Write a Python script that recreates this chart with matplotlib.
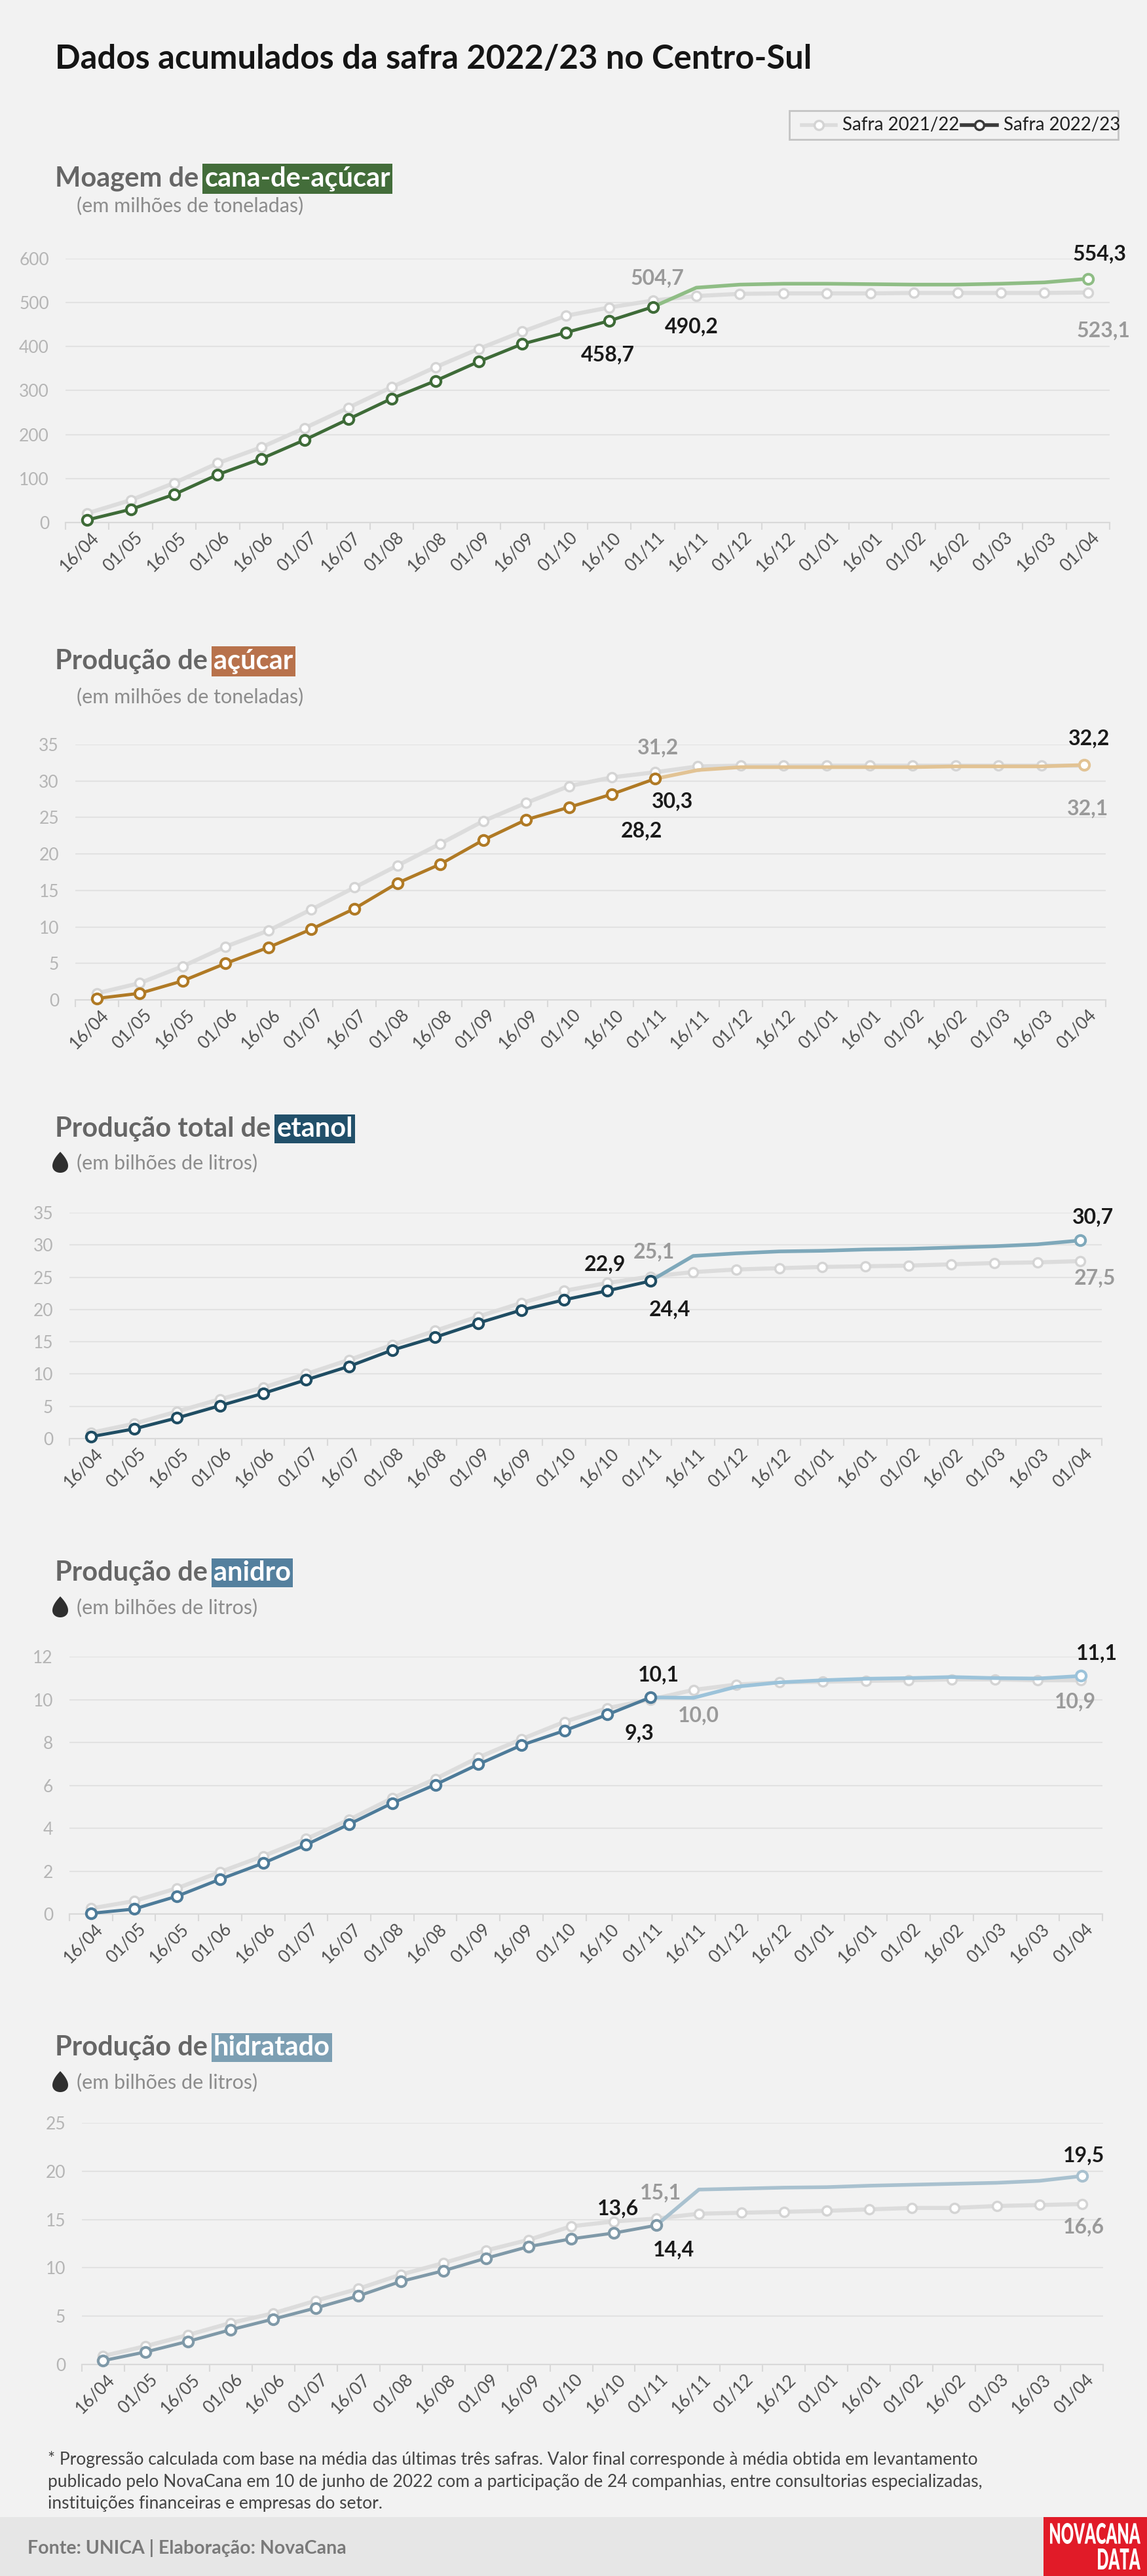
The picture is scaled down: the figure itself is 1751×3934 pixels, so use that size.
import numpy as np
import matplotlib
matplotlib.use('Agg')
import matplotlib.pyplot as plt
from matplotlib.lines import Line2D
from matplotlib.patches import Rectangle, Polygon, PathPatch
from matplotlib.transforms import ScaledTranslation, Affine2D
from matplotlib.textpath import TextPath
from matplotlib.font_manager import FontProperties

W, H = 1751, 3934
plt.rcParams['font.family'] = ['Lato', 'DejaVu Sans']

# --- dados ---
datas = ['16/04', '01/05', '16/05', '01/06', '16/06', '01/07', '16/07', '01/08',
         '16/08', '01/09', '16/09', '01/10', '16/10', '01/11', '16/11', '01/12',
         '16/12', '01/01', '16/01', '01/02', '16/02', '01/03', '16/03', '01/04']

moagem_2122 = [21, 51, 90, 135, 171, 215, 261, 308, 353, 395, 434, 470, 489, 504.7,
               515, 520, 521, 521, 521, 522, 522, 522, 522, 523.1]
moagem_2223 = [6, 30, 64, 109, 145, 188, 235, 282, 322, 366, 406, 432, 458.7, 490.2]
moagem_proj = [534, 541, 543, 543, 542, 541, 541, 543, 546, 554.3]

acucar_2122 = [0.9, 2.3, 4.6, 7.3, 9.5, 12.4, 15.4, 18.4, 21.4, 24.5, 27.0, 29.3, 30.5, 31.2,
               32.0, 32.1, 32.1, 32.1, 32.1, 32.1, 32.1, 32.1, 32.1, 32.1]
acucar_2223 = [0.2, 0.9, 2.6, 5.0, 7.2, 9.7, 12.5, 16.0, 18.6, 21.9, 24.7, 26.4, 28.2, 30.3]
acucar_proj = [31.5, 31.9, 31.9, 31.9, 31.9, 31.9, 32.0, 32.0, 32.0, 32.2]

etanol_2122 = [0.9, 2.3, 4.2, 6.1, 7.9, 10.0, 12.2, 14.5, 16.7, 18.9, 21.0, 22.9, 24.1, 25.1,
               25.8, 26.2, 26.4, 26.6, 26.7, 26.8, 27.0, 27.2, 27.3, 27.5]
etanol_2223 = [0.3, 1.5, 3.2, 5.1, 7.0, 9.1, 11.2, 13.7, 15.7, 17.9, 19.9, 21.5, 22.9, 24.4]
etanol_proj = [28.3, 28.7, 29.0, 29.1, 29.3, 29.4, 29.6, 29.8, 30.1, 30.7]

anidro_2122 = [0.26, 0.6, 1.2, 1.96, 2.7, 3.5, 4.4, 5.4, 6.3, 7.3, 8.15, 8.96, 9.6, 10.0,
               10.45, 10.7, 10.8, 10.83, 10.87, 10.9, 10.94, 10.94, 10.9, 10.9]
anidro_2223 = [0.03, 0.23, 0.83, 1.62, 2.37, 3.23, 4.19, 5.17, 6.03, 6.98, 7.87, 8.55, 9.3, 10.1]
anidro_proj = [10.08, 10.6, 10.8, 10.9, 10.97, 11.0, 11.05, 11.0, 10.98, 11.1]

hidratado_2122 = [0.88, 1.9, 3.06, 4.3, 5.3, 6.6, 7.84, 9.3, 10.5, 11.8, 12.9, 14.3, 14.8, 15.1,
                  15.6, 15.7, 15.8, 15.9, 16.05, 16.2, 16.2, 16.4, 16.5, 16.6]
hidratado_2223 = [0.4, 1.3, 2.4, 3.6, 4.7, 5.85, 7.1, 8.6, 9.7, 11.0, 12.2, 13.0, 13.6, 14.4]
hidratado_proj = [18.1, 18.2, 18.3, 18.35, 18.5, 18.6, 18.7, 18.8, 19.0, 19.5]

CINZA = '#dcdcdc'
BG = '#f2f2f2'


def fx(x):
    return x / W


def fy(y):
    return 1 - y / H


def rect(left, top, right, bottom):
    return [left / W, 1 - bottom / H, (right - left) / W, (bottom - top) / H]


def fmt(v):
    return f'{v:.1f}'.replace('.', ',')


def gota(fig, cx, top, bottom, cor='#2f2f2f'):
    t = np.linspace(0, 2 * np.pi, 80)
    w = 24
    hh = bottom - top
    xs = cx + np.sin(t) * np.sin(t / 2) * (w / 2) / 0.77
    ys = top + (1 - np.cos(t)) / 2 * hh
    fig.add_artist(Polygon(np.column_stack([fx(xs), fy(ys)]), closed=True,
                           facecolor=cor, edgecolor='none', transform=fig.transFigure))


def texto_esticado(fig, s, x1, top, bottom, sx_por_px):
    # texto condensado, alinhado à direita em x1, ocupando top..bottom (pixels)
    tp = TextPath((0, 0), s, size=40, prop=FontProperties(family='Lato', weight='heavy'))
    ex = tp.get_extents()
    sy = (bottom - top) / ex.height
    sx = sx_por_px
    xs = x1 - ex.width * sx
    tr = (Affine2D().translate(-ex.x0, -ex.y0).scale(sx, sy).translate(xs, H - bottom)
          + Affine2D().scale(1 / W, 1 / H) + fig.transFigure)
    fig.add_artist(PathPatch(tp, facecolor='white', edgecolor='none', transform=tr))


fig = plt.figure(figsize=(W / 100, H / 100), dpi=100, facecolor=BG)
renderer = fig.canvas.get_renderer()

# título
fig.text(fx(84), fy(90), 'Dados acumulados da safra 2022/23 no Centro-Sul',
         fontsize=36.5, weight='bold', color='#151515', va='center')

# legenda
fig.add_artist(Rectangle((fx(1205), fy(213)), (1707 - 1205) / W, 44 / H,
                         facecolor=BG, edgecolor='#c4c4c4', lw=2, transform=fig.transFigure))
fig.add_artist(Line2D([fx(1224), fx(1276)], [fy(191), fy(191)], color=CINZA, lw=4,
                      transform=fig.transFigure))
fig.add_artist(Line2D([fx(1250)], [fy(191)], marker='o', ms=10, mfc='white', mec='#d4d4d4',
                      mew=2.5, transform=fig.transFigure))
fig.text(fx(1286), fy(191), 'Safra 2021/22', fontsize=20, color='#222', va='center')
fig.add_artist(Line2D([fx(1468), fx(1522)], [fy(191), fy(191)], color='#3a3a3a', lw=4,
                      transform=fig.transFigure))
fig.add_artist(Line2D([fx(1495)], [fy(191)], marker='o', ms=10, mfc='white', mec='#3a3a3a',
                      mew=2.5, transform=fig.transFigure))
fig.text(fx(1532), fy(191), 'Safra 2022/23', fontsize=20, color='#222', va='center')

paineis = [
    dict(pre='Moagem de', dest='cana-de-açúcar', box='#436d3a', sub='(em milhões de toneladas)',
         gota=False, head_y=273, sub_y=314, ax=(100, 395, 1694, 798), top=600, step=100,
         ant=moagem_2122, atual=moagem_2223, proj=moagem_proj,
         cor='#3e6b38', cor_proj='#8fbd85',
         labels=[('ant', 13, 7, 34), ('atual', 13, 59, -30), ('atual', 12, -2, -52),
                 ('proj', 23, 18, 38), ('ant', 23, 24, -58)]),
    dict(pre='Produção de', dest='açúcar', box='#b8724c', sub='(em milhões de toneladas)',
         gota=False, head_y=1010, sub_y=1064, ax=(115, 1137, 1688, 1527), top=35, step=5,
         ant=acucar_2122, atual=acucar_2223, proj=acucar_proj,
         cor='#b07a25', cor_proj='#e2c394',
         labels=[('ant', 13, 5, 38), ('atual', 13, 27, -34), ('atual', 12, 45, -56),
                 ('proj', 23, 7, 40), ('ant', 23, 5, -65)]),
    dict(pre='Produção total de', dest='etanol', box='#22506a', sub='(em bilhões de litros)',
         gota=True, head_y=1724, sub_y=1776, ax=(106, 1852, 1682, 2197), top=35, step=5,
         ant=etanol_2122, atual=etanol_2223, proj=etanol_proj,
         cor='#1f4d63', cor_proj='#7ea8ba',
         labels=[('atual', 12, -3, 40), ('ant', 13, 6, 38), ('atual', 13, 30, -43),
                 ('proj', 23, 19, 36), ('ant', 23, 22, -26)]),
    dict(pre='Produção de', dest='anidro', box='#54809e', sub='(em bilhões de litros)',
         gota=True, head_y=2402, sub_y=2455, ax=(106, 2530, 1683, 2923), top=12, step=2,
         ant=anidro_2122, atual=anidro_2223, proj=anidro_proj,
         cor='#4d7b99', cor_proj='#9cc3da',
         labels=[('atual', 13, 12, 34), ('atual', 12, 49, -28), ('ant', 13, 73, -24),
                 ('proj', 23, 24, 35), ('ant', 23, -9, -33)]),
    dict(pre='Produção de', dest='hidratado', box='#7d9fb3', sub='(em bilhões de litros)',
         gota=True, head_y=3127, sub_y=3180, ax=(125, 3242, 1684, 3611), top=25, step=5,
         ant=hidratado_2122, atual=hidratado_2223, proj=hidratado_proj,
         cor='#7f99a8', cor_proj='#a9c1cf',
         labels=[('atual', 12, 6, 37), ('ant', 13, 7, 39), ('atual', 13, 27, -37),
                 ('proj', 23, 3, 31), ('ant', 23, 3, -35)]),
]

x = np.arange(len(datas))

for p in paineis:
    # cabeçalho
    t1 = fig.text(fx(84), fy(p['head_y']), p['pre'], fontsize=30, weight='bold',
                  color='#666666', va='center')
    ext = t1.get_window_extent(renderer)
    fig.text(ext.x1 / W + 9 / W, fy(p['head_y']), p['dest'], fontsize=30, weight='bold',
             color='white', va='center',
             bbox=dict(boxstyle='square,pad=0.08', facecolor=p['box'], edgecolor='none'))
    if p['gota']:
        gota(fig, 92, p['sub_y'] - 17, p['sub_y'] + 15)
    fig.text(fx(117), fy(p['sub_y']), p['sub'], fontsize=22, color='#8c8c8c', va='center')

    l, tp, r, b = p['ax']
    ax = fig.add_axes(rect(l, tp, r, b))
    ax.set_facecolor('none')

    proj_full = [p['atual'][-1]] + p['proj']
    xp = x[len(p['atual']) - 1:]

    ax.plot(x, p['ant'], color=CINZA, lw=4.5, marker='o', ms=10, mfc='white',
            mec='#d4d4d4', mew=2.5, zorder=2, clip_on=False)
    ax.plot(xp, proj_full, color=p['cor_proj'], lw=4, zorder=3, clip_on=False,
            solid_capstyle='round')
    ax.plot(xp[-1], proj_full[-1], 'o', ms=11, mfc='white', mec=p['cor_proj'], mew=3,
            zorder=5, clip_on=False)
    ax.plot(x[:len(p['atual'])], p['atual'], color=p['cor'], lw=3.5, marker='o', ms=11,
            mfc='white', mec=p['cor'], mew=3, zorder=4, clip_on=False)

    series = {'ant': p['ant'], 'atual': p['atual'],
              'proj': [None] * (len(p['atual']) - 1) + proj_full}
    for nome, i, dx, dy in p['labels']:
        v = series[nome][i]
        cor = '#9a9a9a' if nome == 'ant' else '#1a1a1a'
        ax.annotate(fmt(v), (i, v), xytext=(dx, dy), textcoords='offset pixels',
                    ha='center', va='center', fontsize=23, weight='bold', color=cor,
                    annotation_clip=False, zorder=6)

    ax.set_xlim(-0.5, len(datas) - 0.5)
    ax.set_ylim(0, p['top'])
    ax.set_yticks(np.arange(0, p['top'] + 1, p['step']))
    ax.yaxis.grid(True, color='#e2e2e2', lw=1.5)
    ax.set_axisbelow(True)
    for s in ['left', 'right', 'top']:
        ax.spines[s].set_visible(False)
    ax.spines['bottom'].set_color('#d9d9d9')
    ax.spines['bottom'].set_linewidth(1.5)
    ax.tick_params(axis='y', length=0, labelsize=19, labelcolor='#b5b5b5', pad=18)

    ax.set_xticks(x)
    ax.set_xticklabels(datas)
    ax.set_xticks(np.arange(-0.5, len(datas)), minor=True)
    ax.tick_params(axis='x', which='major', length=0, labelsize=19, labelcolor='#505050',
                   pad=14, labelrotation=45)
    ax.tick_params(axis='x', which='minor', length=8, width=1.5, color='#d9d9d9')
    off = ScaledTranslation(10 / 72, 0, fig.dpi_scale_trans)
    for lbl in ax.get_xticklabels():
        lbl.set_ha('right')
        lbl.set_va('center')
        lbl.set_rotation_mode('anchor')
        lbl.set_transform(lbl.get_transform() + off)

# nota
nota = ['* Progressão calculada com base na média das últimas três safras. Valor final corresponde à média obtida em levantamento',
        'publicado pelo NovaCana em 10 de junho de 2022 com a participação de 24 companhias, entre consultorias especializadas,',
        'instituições financeiras e empresas do setor.']
for yy, linha in zip([3756, 3790, 3823], nota):
    fig.text(fx(73), fy(yy), linha, fontsize=19, color='#444444', va='center')

# rodapé
fig.add_artist(Rectangle((0, 0), 1, (H - 3844) / H, facecolor='#e6e6e6', edgecolor='none',
                         transform=fig.transFigure))
fig.text(fx(42), fy(3891), 'Fonte: UNICA | Elaboração: NovaCana', fontsize=20.5,
         weight='bold', color='#7a7a7a', va='center')
fig.add_artist(Rectangle((fx(1593), 0), (W - 1593) / W, (H - 3844) / H, facecolor='#e11b28',
                         edgecolor='none', transform=fig.transFigure))
tp_ref = TextPath((0, 0), 'NOVACANA', size=40, prop=FontProperties(family='Lato', weight='heavy'))
sx_logo = (1741 - 1603) / tp_ref.get_extents().width
texto_esticado(fig, 'NOVACANA', 1741, 3853, 3885, sx_logo)
texto_esticado(fig, 'DATA', 1741, 3892, 3924, sx_logo)

fig.savefig('out.png', dpi=100, facecolor=BG)
